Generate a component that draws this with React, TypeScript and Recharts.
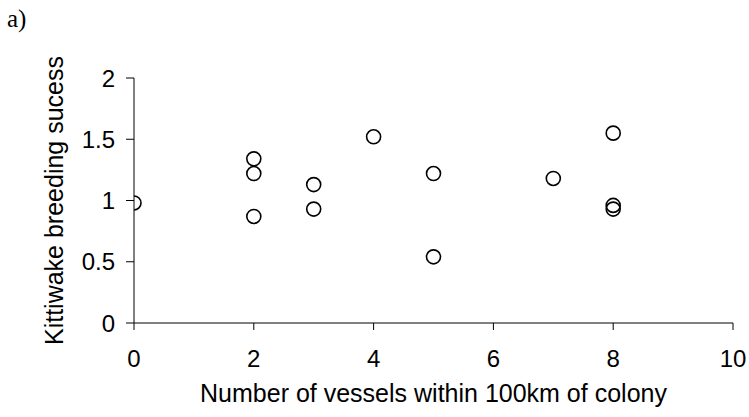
import React from 'react';
import { ScatterChart, Scatter, XAxis, YAxis } from 'recharts';

const vessels = [0, 2, 2, 2, 3, 3, 4, 5, 5, 7, 8, 8, 8];
const success = [0.98, 1.34, 1.22, 0.87, 1.13, 0.93, 1.52, 1.22, 0.54, 1.18, 1.55, 0.96, 0.93];
const xTicks = [0, 2, 4, 6, 8, 10];
const yTicks = [0, 0.5, 1, 1.5, 2];

const data = vessels.map((v, i) => ({ x: v, y: success[i] }));

const font = '"Liberation Sans", Arial, sans-serif';

const Ring = (props: any) => {
  const { cx, cy } = props;
  if (cx == null || cy == null) return null;
  return <circle cx={cx} cy={cy} r={7} fill="none" stroke="#000" strokeWidth={1.6} />;
};

const YLabel = (props: any) => {
  const vb = props.viewBox || {};
  const cy = (vb.y ?? 78) + (vb.height ?? 245) / 2;
  return (
    <text x={63} y={cy} transform={`rotate(-90 63 ${cy})`} textAnchor="middle" fontFamily={font} fontSize={25} fill="#000">
      Kittiwake breeding sucess
    </text>
  );
};

const XLabel = (props: any) => {
  const vb = props.viewBox || {};
  const cx = (vb.x ?? 134) + (vb.width ?? 599) / 2;
  return (
    <text x={cx} y={402} textAnchor="middle" fontFamily={font} fontSize={25} fill="#000">
      Number of vessels within 100km of colony
    </text>
  );
};

export default function App() {
  return (
    <div style={{ position: 'absolute', left: 0, top: 0, width: 749, height: 417, background: '#fff' }}>
      <svg width={749} height={417} style={{ position: 'absolute', left: 0, top: 0 }}>
        <text x={7} y={27} fontFamily='"Liberation Serif", "Times New Roman", serif' fontSize={25} fill="#000">a)</text>
      </svg>
      <div style={{ position: 'absolute', left: 0, top: 0 }}>
        <ScatterChart width={749} height={417} margin={{ top: 78, right: 16, bottom: 34, left: 74 }}>
          <XAxis
            type="number"
            dataKey="x"
            domain={[0, 10]}
            ticks={xTicks}
            interval={0}
            allowDataOverflow
            height={60}
            tickSize={7}
            tickMargin={20}
            axisLine={{ stroke: '#000', strokeWidth: 1 }}
            tickLine={{ stroke: '#000', strokeWidth: 1 }}
            tick={{ fill: '#000', fontSize: 24, fontFamily: font }}
            label={<XLabel />}
          />
          <YAxis
            type="number"
            dataKey="y"
            domain={[0, 2]}
            ticks={yTicks}
            interval={0}
            allowDataOverflow
            width={60}
            tickSize={8}
            tickMargin={11}
            axisLine={{ stroke: '#000', strokeWidth: 1 }}
            tickLine={{ stroke: '#000', strokeWidth: 1 }}
            tick={{ fill: '#000', fontSize: 24, fontFamily: font }}
            label={<YLabel />}
          />
          <Scatter data={data} shape={<Ring />} isAnimationActive={false} />
        </ScatterChart>
      </div>
    </div>
  );
}
